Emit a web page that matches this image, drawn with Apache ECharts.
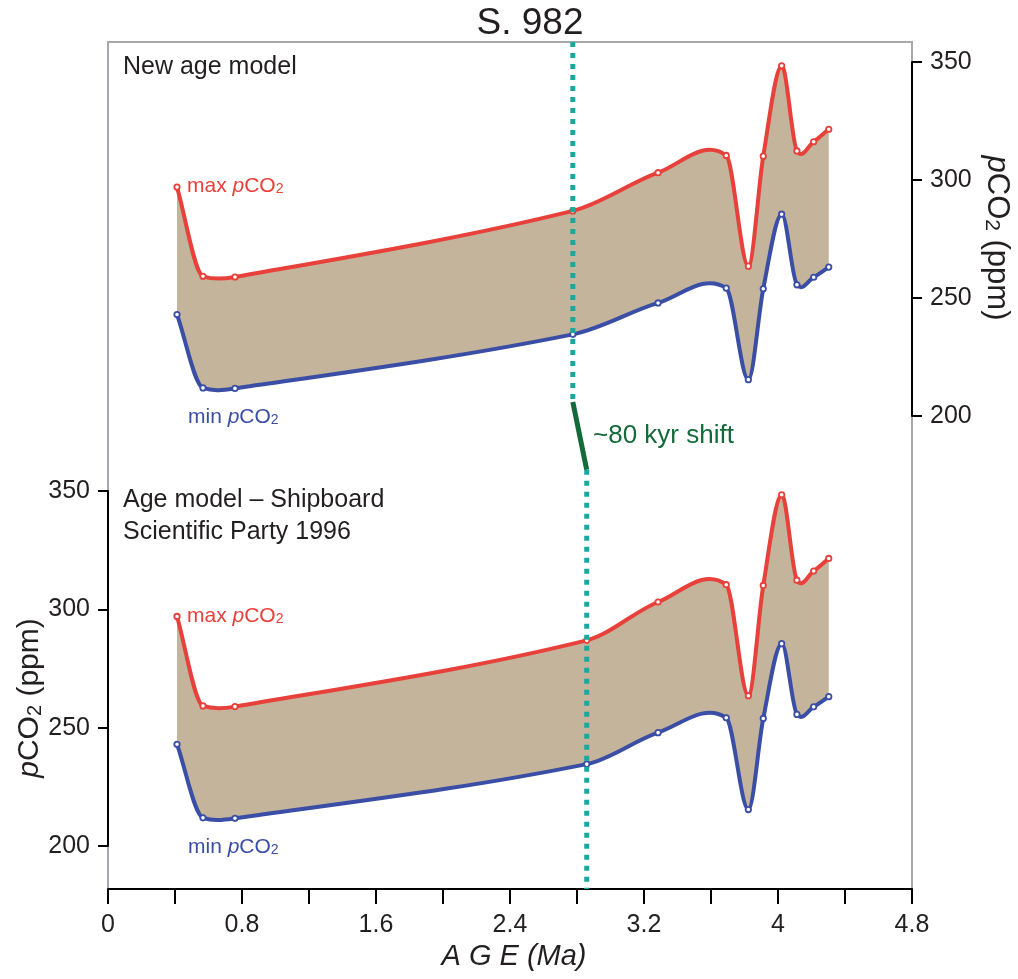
<!DOCTYPE html>
<html>
<head>
<meta charset="utf-8">
<script src="https://cdn.jsdelivr.net/npm/echarts@6/dist/echarts.min.js"></script>
<style>html,body{margin:0;padding:0;background:#fff;}#c{width:1018px;height:979px;}</style>
</head>
<body>
<div id="c"></div>
<script>
// ---- data ----
const ageNew       = [0.412, 0.567, 0.758, 2.775, 3.284, 3.691, 3.823, 3.912, 4.022, 4.113, 4.213, 4.303];
const ageShipboard = [0.412, 0.567, 0.758, 2.858, 3.284, 3.691, 3.823, 3.912, 4.022, 4.113, 4.213, 4.303];
const maxCO2 = [297, 259.2, 258.9, 286.9, 303.1, 310.4, 263.5, 310.1, 348.4, 312.3, 316.2, 321.5];
const minCO2 = [243, 211.9, 211.7, 234.6, 247.9, 254.2, 215.4, 253.9, 285.5, 255.6, 258.8, 263.1];
const xTicks = [0, 0.4, 0.8, 1.2, 1.6, 2.0, 2.4, 2.8, 3.2, 3.6, 4.0, 4.4, 4.8];
const xTickLabels = ['0', '', '0.8', '', '1.6', '', '2.4', '', '3.2', '', '4', '', '4.8'];
const yTickValues = [200, 250, 300, 350];
const shiftAges = [2.775, 2.858];         // age of the S. 982 tie point: new model, shipboard model
const shiftLevels = [1, 0.575, 0.495, 0]; // fraction of frame height: top, end of upper dots, start of lower dots, bottom

const RED = '#e8403a', BLUE = '#3b4ea6', TAN = '#c3b49b', CYAN = '#17a99e', GREEN = '#136b3a', TXT = '#231f20';
const FONT = 'Liberation Sans, Arial, sans-serif';

// smooth cubic Hermite curve (in x) through pixel points, rendering only
function spline(pts, move) {
  const n = pts.length;
  const s = [], h = [];
  for (let i = 0; i < n - 1; i++) {
    s.push((pts[i + 1][1] - pts[i][1]) / (pts[i + 1][0] - pts[i][0]));
    h.push(Math.abs(pts[i + 1][0] - pts[i][0]) / 3);
  }
  const m = pts.map((p, i) => {
    if (i === 0) return s[0];
    if (i === n - 1) return s[n - 2];
    let c = (pts[i + 1][1] - pts[i - 1][1]) / (pts[i + 1][0] - pts[i - 1][0]);
    const lim = Math.max(3 * Math.min(Math.abs(s[i - 1]), Math.abs(s[i])), 3 / Math.min(h[i - 1], h[i]));
    if (Math.abs(c) > lim) c = Math.sign(c) * lim;
    return c;
  });
  let d = (move ? 'M' : 'L') + pts[0][0] + ',' + pts[0][1];
  for (let i = 0; i < n - 1; i++) {
    const p1 = pts[i], p2 = pts[i + 1], k = (p2[0] - p1[0]) / 3;
    d += ' C' + (p1[0] + k) + ',' + (p1[1] + m[i] * k) + ' ' + (p2[0] - k) + ',' + (p2[1] - m[i + 1] * k) + ' ' + p2[0] + ',' + p2[1];
  }
  return d;
}

function panelSeries(ages, gi) {
  const rows = ages.map((a, i) => [a, minCO2[i], maxCO2[i]]);
  return {
    type: 'custom', xAxisIndex: gi, yAxisIndex: gi, data: rows, silent: true, animation: false, z: 3,
    encode: { x: 0, y: [1, 2] },
    renderItem: function (params, api) {
      if (params.dataIndex !== 0) return null;
      const top = rows.map(r => api.coord([r[0], r[2]]));
      const bot = rows.map(r => api.coord([r[0], r[1]]));
      const band = spline(top, true) + ' ' + spline(bot.slice().reverse(), false) + ' Z';
      const children = [
        { type: 'path', shape: { pathData: band }, style: { fill: TAN, stroke: null } },
        { type: 'path', shape: { pathData: spline(bot, true) }, style: { fill: null, stroke: BLUE, lineWidth: 4, lineJoin: 'round', lineCap: 'round' } },
        { type: 'path', shape: { pathData: spline(top, true) }, style: { fill: null, stroke: RED, lineWidth: 4, lineJoin: 'round', lineCap: 'round' } }
      ];
      bot.forEach(p => children.push({ type: 'circle', shape: { cx: p[0], cy: p[1], r: 2.7 }, style: { fill: '#fff', stroke: BLUE, lineWidth: 1.8 } }));
      top.forEach(p => children.push({ type: 'circle', shape: { cx: p[0], cy: p[1], r: 2.7 }, style: { fill: '#fff', stroke: RED, lineWidth: 1.8 } }));
      return { type: 'group', children: children };
    }
  };
}

const hiddenX = (gi) => ({ type: 'value', gridIndex: gi, min: 0, max: 4.8, show: false });
const pAxis = (gi, pos) => ({
  type: 'value', gridIndex: gi, position: pos, min: 200, max: 350, interval: 50,
  axisLine: { show: true, onZero: false, lineStyle: { color: '#000', width: 2 } },
  axisTick: { show: true, length: 10, lineStyle: { color: '#000', width: 2 } },
  axisLabel: { show: true, margin: 18, fontSize: 25, color: TXT, fontFamily: FONT,
               formatter: (v) => yTickValues.indexOf(v) >= 0 ? String(v) : '' },
  splitLine: { show: false }
});

const rich = (size, color) => ({
  n: { fontSize: size, fill: color, fontFamily: FONT, verticalAlign: 'middle' },
  i: { fontSize: size, fill: color, fontFamily: FONT, fontStyle: 'italic', verticalAlign: 'middle' },
  s: { fontSize: Math.round(size * 0.68), fill: color, fontFamily: FONT, verticalAlign: 'bottom' }
});
const co2Label = (prefix, x, y, color) => ({
  type: 'text', x: x, y: y, silent: true, z: 20,
  style: { text: '{n|' + prefix + ' }{i|p}{n|CO}{s|2}', rich: rich(21, color), verticalAlign: 'middle', align: 'left' }
});

const chart = echarts.init(document.getElementById('c'), null, { renderer: 'canvas' });
chart.setOption({
  animation: false,
  backgroundColor: '#fff',
  grid: [
    { left: 108, right: 106, top: 62, height: 354 },
    { left: 108, right: 106, top: 491, height: 355 },
    { left: 108, right: 106, top: 42, height: 847, show: true, borderColor: '#a6a8ab', borderWidth: 2, backgroundColor: 'transparent' }
  ],
  xAxis: [
    hiddenX(0), hiddenX(1),
    { type: 'value', gridIndex: 2, min: 0, max: 4.8, interval: 0.4,
      axisLine: { show: true, onZero: false, lineStyle: { color: '#000', width: 2 } },
      axisTick: { show: true, length: 15, lineStyle: { color: '#000', width: 2 } },
      axisLabel: { margin: 24, fontSize: 25, color: TXT, fontFamily: FONT,
                   formatter: (v) => { const k = xTicks.findIndex(t => Math.abs(t - v) < 1e-6); return k >= 0 ? xTickLabels[k] : ''; } },
      splitLine: { show: false } }
  ],
  yAxis: [
    pAxis(0, 'right'),
    pAxis(1, 'left'),
    { type: 'value', gridIndex: 2, min: 0, max: 1, show: false }
  ],
  series: [
    panelSeries(ageNew, 0),
    panelSeries(ageShipboard, 1),
    { type: 'line', xAxisIndex: 2, yAxisIndex: 2, data: [[shiftAges[0], shiftLevels[0]], [shiftAges[0], shiftLevels[1]]],
      symbol: 'none', lineStyle: { color: CYAN, width: 5, type: [5, 6] }, z: 10, silent: true, animation: false },
    { type: 'line', xAxisIndex: 2, yAxisIndex: 2, data: [[shiftAges[0], shiftLevels[1]], [shiftAges[1], shiftLevels[2]]],
      symbol: 'none', lineStyle: { color: GREEN, width: 5 }, z: 10, silent: true, animation: false },
    { type: 'line', xAxisIndex: 2, yAxisIndex: 2, data: [[shiftAges[1], shiftLevels[2]], [shiftAges[1], shiftLevels[3]]],
      symbol: 'none', lineStyle: { color: CYAN, width: 5, type: [5, 6] }, z: 10, silent: true, animation: false }
  ],
  graphic: [
    { type: 'text', x: 530, y: 24, silent: true, style: { text: 'S. 982', fontSize: 37, fill: TXT, fontFamily: FONT, align: 'center', verticalAlign: 'middle' } },
    { type: 'text', x: 123, y: 67, silent: true, style: { text: 'New age model', fontSize: 25, fill: TXT, fontFamily: FONT, align: 'left', verticalAlign: 'middle' } },
    { type: 'text', x: 123, y: 484, silent: true, style: { text: 'Age model \u2013 Shipboard\nScientific Party 1996', fontSize: 25, lineHeight: 32, fill: TXT, fontFamily: FONT, align: 'left', verticalAlign: 'top' } },
    co2Label('max', 187, 186, RED),
    co2Label('min', 188, 417, BLUE),
    co2Label('max', 187, 616, RED),
    co2Label('min', 188, 847, BLUE),
    { type: 'text', x: 593, y: 436, silent: true, style: { text: '~80 kyr shift', fontSize: 26, fill: GREEN, fontFamily: FONT, align: 'left', verticalAlign: 'middle' } },
    { type: 'text', x: 514, y: 957, silent: true, style: { text: 'A G E (Ma)', fontSize: 29, fontStyle: 'italic', fill: TXT, fontFamily: FONT, align: 'center', verticalAlign: 'middle' } },
    { type: 'text', x: 30, y: 698, rotation: Math.PI / 2, silent: true,
      style: { text: '{i|p}{n|CO}{s|2}{n| (ppm)}', rich: rich(30, TXT), align: 'center', verticalAlign: 'middle' } },
    { type: 'text', x: 997, y: 238, rotation: -Math.PI / 2, silent: true,
      style: { text: '{i|p}{n|CO}{s|2}{n| (ppm)}', rich: rich(31, TXT), align: 'center', verticalAlign: 'middle' } }
  ]
});
</script>
</body>
</html>
